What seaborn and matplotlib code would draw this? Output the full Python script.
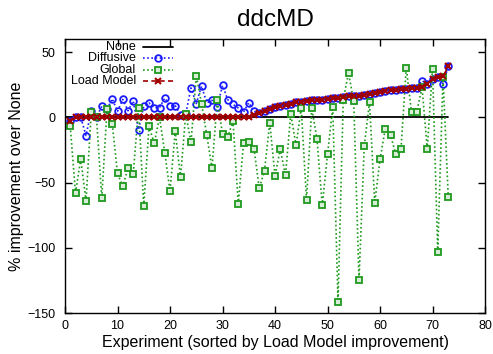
import matplotlib
matplotlib.use("Agg")
import matplotlib.pyplot as plt
import seaborn as sns
from matplotlib.lines import Line2D

# ---------------- data ----------------
experiments = list(range(1, 74))
none_x = list(range(0, 74))
none_values = [0] * 74

diffusive = [-3, 0, 0, -14, 5, 0, 8.4, 6, 14.2, 4.5,
             13.7, 5, 12.5, -9.4, 8.4, 11, 7.4, 7.4, 14.7, 9,
             9, 2, 2.8, 22.5, 10.5, 24, 11, 13, 8, 24.4,
             13.5, 9.9, 7.1, 4, 11.2, 4.5, 3, 4.6, 6, 7.5,
             8.5, 9.5, 10.5, 11.5, 12, 12.5, 13, 13.3, 13.6, 14,
             14.5, 15, 15.5, 16, 16.3, 16.6, 17, 17.7, 18.3, 19,
             20, 20.7, 21.2, 21.6, 22, 22.3, 22.7, 28, 25.7, 29.5,
             30.5, 25.7, 39]

global_opt = [-7, -58, -32, -64, 4, 0, -62, 6, -5, -43,
              -53, -39, -43.5, 7, -68, -7, -20, 0, -27, -56.5,
              -10.7, -46, 2.8, -19.3, 32, 10.5, -13.5, -39, 13, -12.5,
              -15, -3, -66.5, -20, -18.8, -24, -54.5, -41, -4, -45,
              -24.4, -44.5, 2.8, -21.6, 7.1, -63.4, 7.1, -16.8, -67.6, -28.5,
              7.6, -141.5, 13.5, 34, 12.5, -125, -22, 11.5, -65.6, -32.3,
              -8.9, -13.7, -28.2, -24.2, 38, 4, 4, 23, -24, 37,
              -103, 31, -61]

load_model = [-3, 0, 0, 0, 0, 0, 0, 0, 0, 0,
              0, 0, 0, 0, 0, 0, 0, 0, 0, 0,
              0, 0, 0, 0, 0, 0, 0, 0, 0, 0,
              0, 0, 0, 0, 0, 1.5, 3, 4.6, 6, 7.5,
              8.5, 9.5, 10.5, 11.5, 12, 12.5, 13, 13.3, 13.6, 14,
              14.5, 15, 15.5, 16, 16.3, 16.6, 17, 17.7, 18.3, 19,
              20, 20.7, 21.2, 21.6, 22, 22.3, 22.7, 23.3, 25.7, 29.5,
              30.5, 31.3, 39]

series_labels = ["None", "Diffusive", "Global", "Load Model"]
x_ticks = [0, 10, 20, 30, 40, 50, 60, 70, 80]
y_ticks = [-150, -100, -50, 0, 50]

# ---------------- style ----------------
sns.set_style("ticks")
plt.rcParams["font.family"] = ["Liberation Sans", "DejaVu Sans"]
plt.rcParams["text.color"] = "black"
plt.rcParams["axes.labelcolor"] = "black"
plt.rcParams["xtick.color"] = "black"
plt.rcParams["ytick.color"] = "black"

C_NONE = "#000000"
C_DIFF = "#1a1aff"
C_GLOB = "#1f9a1f"
C_LOAD = "#a00000"

MS = 4.8
diff_style = dict(color=C_DIFF, linestyle=(0, (1, 1.5)), linewidth=1.2, marker="o",
                  markersize=MS, markerfacecolor="none", markeredgecolor=C_DIFF,
                  markeredgewidth=1.3)
glob_style = dict(color=C_GLOB, linestyle=(0, (1, 1.5)), linewidth=1.2, marker="s",
                  markersize=MS, markerfacecolor="#d8ecd8", markeredgecolor=C_GLOB,
                  markeredgewidth=1.3)
load_style = dict(color=C_LOAD, linestyle=(0, (3, 2)), linewidth=1.2, marker="x",
                  markersize=5, markeredgecolor=C_LOAD, markeredgewidth=1.5)
none_style = dict(color=C_NONE, linestyle="-", linewidth=1.3)

fig = plt.figure(figsize=(4.93, 3.54), dpi=100)
ax = fig.add_axes([65 / 493, 1 - 313 / 354, 420 / 493, 274 / 354])

sns.lineplot(x=none_x, y=none_values, ax=ax, **none_style)
sns.lineplot(x=experiments, y=diffusive, ax=ax, **diff_style)
sns.lineplot(x=experiments, y=global_opt, ax=ax, **glob_style)
sns.lineplot(x=experiments, y=load_model, ax=ax, **load_style)

ax.set_xlim(0, 80)
ax.set_ylim(-150, 60)
ax.set_xticks(x_ticks)
ax.set_yticks(y_ticks)
ax.tick_params(direction="in", top=True, right=True, length=5, width=1,
               labelsize=9, colors="black")
ax.tick_params(axis="y", pad=7)
ax.tick_params(axis="x", pad=5)
for s in ax.spines.values():
    s.set_linewidth(1.0)
    s.set_color("black")

ax.set_title("ddcMD", fontsize=17.5, pad=9, color="black")
ax.set_xlabel("Experiment (sorted by Load Model improvement)", fontsize=11.5, labelpad=2)
ax.set_ylabel("% improvement over None", fontsize=11.5, labelpad=2)

# ---------------- legend (gnuplot style: text right aligned, sample to the right) ----------------
leg_styles = [none_style, diff_style, glob_style, load_style]
row_y = [0.971, 0.929, 0.887, 0.845]
for lab, st, yy in zip(series_labels, leg_styles, row_y):
    ax.text(0.169, yy, lab, transform=ax.transAxes, ha="right", va="center",
            fontsize=9, color="black")
    line_kw = {k: v for k, v in st.items() if k in ("color", "linestyle", "linewidth")}
    ax.add_line(Line2D([0.186, 0.257], [yy, yy], transform=ax.transAxes, **line_kw))
    if "marker" in st:
        mk_kw = {k: v for k, v in st.items() if k not in ("linestyle", "linewidth", "color")}
        ax.add_line(Line2D([0.2215], [yy], transform=ax.transAxes, linestyle="none", **mk_kw))

fig.savefig("out.png", dpi=100)
